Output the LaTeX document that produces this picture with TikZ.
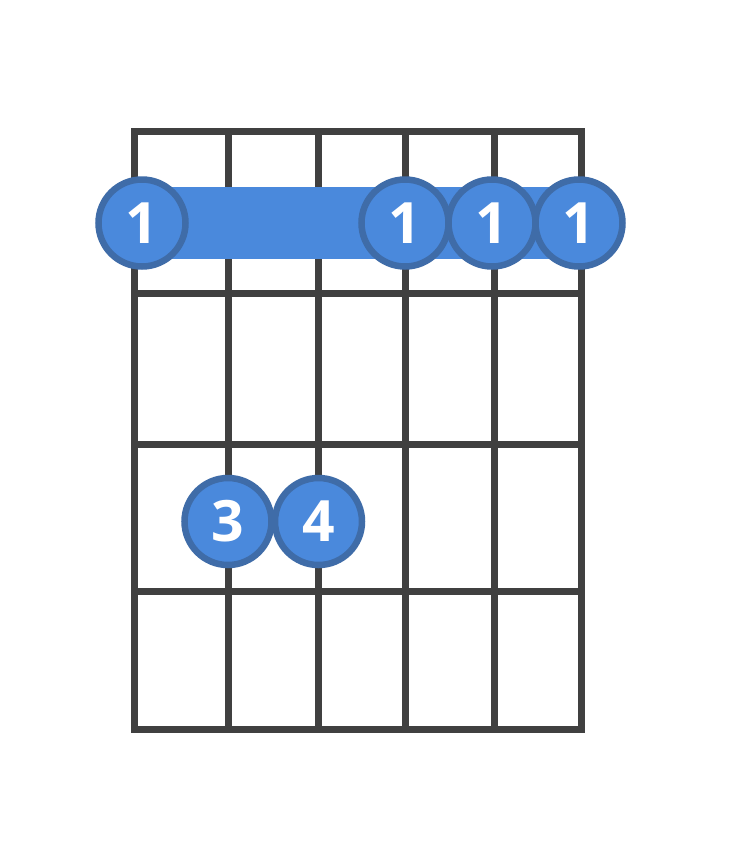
\documentclass[tikz,border=0pt]{standalone}
\usepackage{fontspec}
\setmainfont{Open Sans}
\definecolor{gridc}{HTML}{404040}
\definecolor{dotfill}{HTML}{4A89DC}
\definecolor{dotedge}{HTML}{3F6CA8}
\begin{document}
\begin{tikzpicture}[x=1pt,y=-1pt,
  gridline/.style={draw=gridc,line width=7pt,line cap=rect},
  finger/.style={circle,fill=dotfill,draw=dotedge,line width=6.5pt,minimum size=87pt,inner sep=0pt,
    text=white,font=\bfseries\fontsize{57}{57}\selectfont}]
\useasboundingbox (0,0) rectangle (751,847);
\fill[white] (0,0) rectangle (751,847);
% grid
\foreach \x in {134.5,228.5,318.5,405,494.5,581}
  \draw[gridline] (\x,131.5) -- (\x,729.5);
\foreach \y in {131.5,293,444,591,729.5}
  \draw[gridline] (134.5,\y) -- (581,\y);
% barre
\fill[dotfill] (142,187) rectangle (580,259);
% fingers
\node[finger] (b1) at (142,223) {1};
\node[finger] (b2) at (405,223) {1};
\node[finger] (b3) at (492,223) {1};
\node[finger] (b4) at (579,223) {1};
\node[finger] (f3) at (228,521.5) {3};
\node[finger] (f4) at (318.5,521.5) {4};
\end{tikzpicture}
\end{document}
